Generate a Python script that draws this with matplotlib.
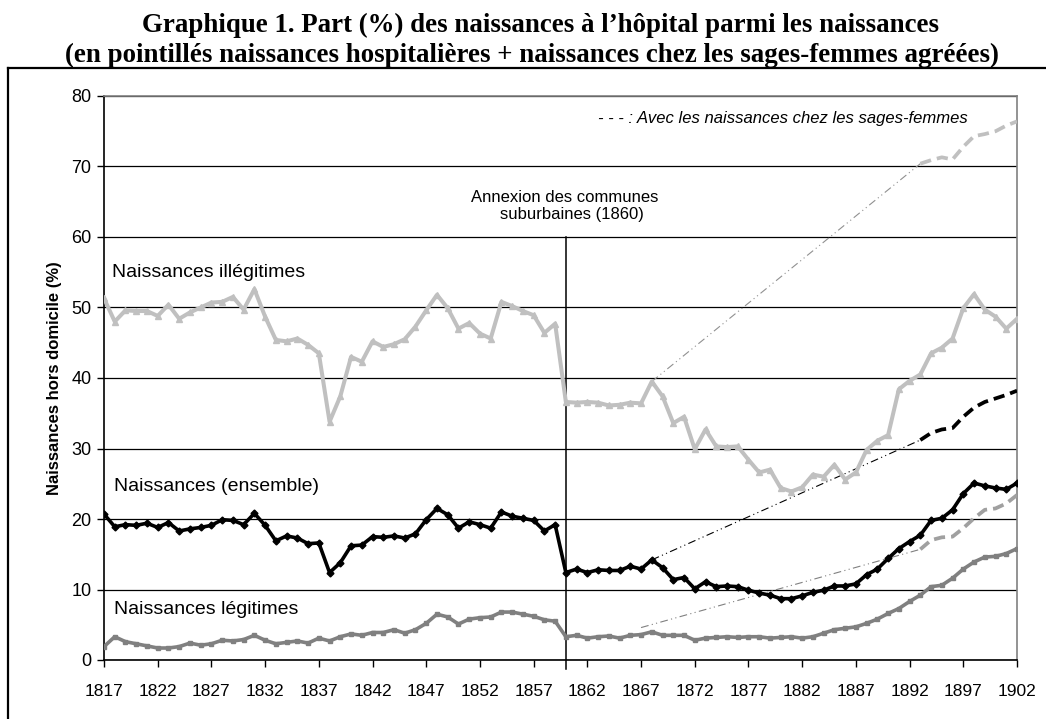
import matplotlib
matplotlib.use("Agg")
import matplotlib.pyplot as plt
from matplotlib.lines import Line2D

# -------------------------------
# Data
# -------------------------------
years = list(range(1817, 1903))

illegitimes = [51.3, 48.0, 49.6, 49.5, 49.5, 48.8, 50.4, 48.4, 49.3, 50.0,
               50.7, 50.8, 51.5, 49.7, 52.6, 48.7, 45.4, 45.2, 45.6, 44.7,
               43.5, 33.8, 37.4, 43.0, 42.3, 45.2, 44.4, 44.8, 45.5, 47.3,
               49.6, 51.8, 49.9, 47.0, 47.8, 46.3, 45.6, 50.8, 50.2, 49.5,
               48.9, 46.4, 47.7, 36.6, 36.5, 36.6, 36.5, 36.1, 36.2, 36.5,
               36.4, 39.5, 37.4, 33.6, 34.5, 29.9, 32.7, 30.3, 30.2, 30.3,
               28.4, 26.6, 27.0, 24.4, 23.9, 24.5, 26.3, 26.0, 27.7, 25.6,
               26.6, 29.8, 31.1, 31.9, 38.4, 39.6, 40.5, 43.5, 44.3, 45.6,
               49.9, 51.9, 49.7, 48.7, 47.0, 48.4]

ensemble = [20.7, 18.9, 19.2, 19.1, 19.4, 18.8, 19.5, 18.3, 18.6, 18.8,
            19.1, 19.9, 19.8, 19.2, 20.8, 19.1, 16.9, 17.6, 17.3, 16.5,
            16.6, 12.4, 13.8, 16.2, 16.3, 17.5, 17.4, 17.6, 17.3, 17.9,
            19.9, 21.5, 20.6, 18.7, 19.6, 19.2, 18.7, 21.0, 20.4, 20.1,
            19.8, 18.3, 19.2, 12.4, 12.9, 12.4, 12.8, 12.7, 12.7, 13.3,
            12.9, 14.2, 13.1, 11.4, 11.7, 10.1, 11.1, 10.4, 10.5, 10.4,
            9.9, 9.5, 9.2, 8.7, 8.7, 9.1, 9.6, 9.9, 10.5, 10.5,
            10.8, 12.1, 12.9, 14.4, 15.8, 16.8, 17.7, 19.8, 20.1, 21.3,
            23.6, 25.1, 24.7, 24.4, 24.2, 25.1]

legitimes = [1.9, 3.3, 2.6, 2.3, 2.0, 1.7, 1.7, 1.9, 2.4, 2.1,
             2.3, 2.8, 2.7, 2.9, 3.5, 2.8, 2.3, 2.5, 2.7, 2.4,
             3.1, 2.7, 3.3, 3.7, 3.5, 3.9, 3.9, 4.3, 3.8, 4.3,
             5.2, 6.5, 6.1, 5.1, 5.8, 6.0, 6.1, 6.8, 6.8, 6.5,
             6.2, 5.7, 5.5, 3.3, 3.5, 3.1, 3.3, 3.4, 3.1, 3.5,
             3.6, 4.0, 3.5, 3.5, 3.5, 2.8, 3.1, 3.2, 3.3, 3.2,
             3.3, 3.3, 3.1, 3.2, 3.3, 3.1, 3.3, 3.8, 4.3, 4.5,
             4.7, 5.2, 5.8, 6.6, 7.3, 8.3, 9.2, 10.4, 10.6, 11.6,
             12.9, 13.9, 14.6, 14.7, 15.1, 15.8]

# with births at licensed midwives (dashed)
sf_years = list(range(1893, 1903))
illegitimes_sf = [70.4, 70.9, 71.3, 71.0, 72.8, 74.3, 74.6, 75.0, 75.8, 76.4]
ensemble_sf = [31.2, 32.2, 32.7, 32.9, 34.5, 35.8, 36.6, 37.1, 37.6, 38.2]
legitimes_sf = [15.7, 17.0, 17.4, 17.5, 18.7, 20.1, 21.3, 21.5, 22.2, 23.4]

# thin dash-dot links
link_years = [1868, 1893]
link_legit_years = [1867, 1893]
illegitimes_link = [39.5, 70.4]
ensemble_link = [14.2, 31.2]
legitimes_link = [4.6, 15.7]

annex_year = 1860
xtick_years = list(range(1817, 1903, 5))
ytick_vals = list(range(0, 81, 10))

# -------------------------------
# Figure
# -------------------------------
W, H = 1046, 719
fig = plt.figure(figsize=(W / 100, H / 100), dpi=100)
ax = fig.add_axes([104 / W, (H - 660) / H, (1017 - 104) / W, (660 - 96) / H])

c_light = '#C0C0C0'
c_mid = '#808080'

ax.plot(years, illegitimes, color=c_light, lw=2.9, marker='^', ms=5,
        markeredgecolor=c_light, zorder=3)
ax.plot(years, ensemble, color='black', lw=2.6, marker='D', ms=3.5, zorder=4)
ax.plot(years, legitimes, color=c_mid, lw=2.6, marker='s', ms=2.5,
        markeredgecolor=c_mid, zorder=3)

ax.plot(sf_years, illegitimes_sf, color=c_light, lw=2.7, dashes=(3, 1.6), zorder=3)
ax.plot(sf_years, ensemble_sf, color='black', lw=2.7, dashes=(3, 1.6), zorder=3)
ax.plot(sf_years, legitimes_sf, color='#A0A0A0', lw=2.7, dashes=(3, 1.6), zorder=3)

dd = (7, 3, 1, 3, 1, 3)
ax.plot(link_years, illegitimes_link, color='#909090', lw=0.8, dashes=dd, zorder=2)
ax.plot(link_years, ensemble_link, color='black', lw=0.8, dashes=dd, zorder=2)
ax.plot(link_legit_years, legitimes_link, color='#808080', lw=0.8, dashes=dd, zorder=2)

# annexation line
ax.plot([annex_year, annex_year], [60, -1.3], color='black', lw=1.1,
        clip_on=False, zorder=2)

ax.set_xlim(1817, 1902)
ax.set_ylim(0, 80)
ax.set_xticks(xtick_years)
ax.set_xticklabels([str(y) for y in xtick_years], fontsize=12.5,
                   fontfamily='Liberation Sans')
ax.set_yticks(ytick_vals)
ax.set_yticklabels([str(v) for v in ytick_vals], fontsize=13,
                   fontfamily='Liberation Sans')
ax.tick_params(axis='x', direction='out', length=5, width=1, pad=12)
ax.tick_params(axis='y', direction='out', length=5, width=1, pad=4)
ax.grid(axis='y', color='black', lw=0.9)
ax.set_axisbelow(True)
for s in ['top', 'right']:
    ax.spines[s].set_color('#808080')
    ax.spines[s].set_linewidth(1.2)
for s in ['left', 'bottom']:
    ax.spines[s].set_color('black')
    ax.spines[s].set_linewidth(1.2)

# text labels
sans = 'Liberation Sans'
ax.text(1817.7, 54.3, 'Naissances illégitimes', fontsize=14, fontfamily=sans,
        va='baseline')
ax.text(1817.9, 24.0, 'Naissances (ensemble)', fontsize=14, fontfamily=sans,
        va='baseline')
ax.text(1817.9, 6.5, 'Naissances légitimes', fontsize=14, fontfamily=sans,
        va='baseline')
ax.text(annex_year - 0.1, 65.0, 'Annexion des communes', fontsize=12,
        fontfamily=sans, ha='center', va='baseline')
ax.text(annex_year + 0.6, 62.5, 'suburbaines (1860)', fontsize=12,
        fontfamily=sans, ha='center', va='baseline')
ax.text(1902 - 4.6, 76.2, '- - - : Avec les naissances chez les sages-femmes',
        fontsize=12, fontfamily=sans, style='italic', ha='right', va='baseline')

fig.text(55 / W, 1 - 378 / H, 'Naissances hors domicile (%)', rotation=90,
         fontsize=12, fontweight='bold', fontfamily=sans,
         ha='center', va='center')

# title
serif = 'Liberation Serif'
fig.text(540 / W, 1 - 31.7 / H,
         "Graphique 1. Part (%) des naissances à l\u2019hôpital parmi les naissances",
         fontsize=19.4, fontweight='bold', fontfamily=serif, ha='center', va='baseline')
fig.text(532 / W, 1 - 61.7 / H,
         "(en pointillés naissances hospitalières + naissances chez les sages-femmes agréées)",
         fontsize=19.4, fontweight='bold', fontfamily=serif, ha='center', va='baseline')

# outer frame (top and left edges visible)
fig.add_artist(Line2D([8 / W, 1.0], [1 - 67.7 / H] * 2, transform=fig.transFigure,
                      color='black', lw=1.6))
fig.add_artist(Line2D([8 / W] * 2, [1 - 67.7 / H, 0], transform=fig.transFigure,
                      color='black', lw=1.6))

fig.savefig('out.png', dpi=100)
